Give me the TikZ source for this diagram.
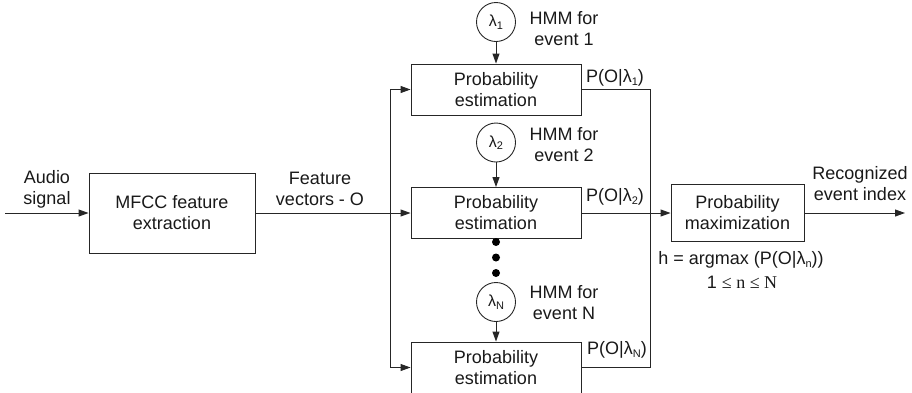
\documentclass[tikz,border=0pt]{standalone}
\usepackage{fontspec}
\setmainfont{Liberation Sans}
\newfontfamily\serifnum{Liberation Serif}
\usetikzlibrary{arrows.meta}
\newcommand\mysub[1]{\raisebox{-0.3ex}{\fontsize{11}{11}\selectfont #1}}
\begin{document}
\begin{tikzpicture}[x=1pt,y=-1pt,
  line width=0.9pt,
  every node/.style={font=\fontsize{18}{21}\selectfont, text=black!90},
  blk/.style={draw=black!85, minimum width=170pt, minimum height=51pt, align=center, inner sep=0pt},
  hmm/.style={draw=black!85, circle, minimum size=39pt, inner sep=0pt, font=\fontsize{16}{16}\selectfont},
  dotn/.style={circle, fill=black, inner sep=0pt, minimum size=8pt},
  txt/.style={align=center},
  ln/.style={draw=black!85},
  arr/.style={ln, -{Triangle[length=10pt,width=7pt]}}
]
\path[use as bounding box] (0,0) rectangle (912,392);
\node[blk, minimum width=166pt, minimum height=80pt] (mfcc) at (172,213) {MFCC feature\\extraction};
\node[blk] (pe1) at (496,89.5) {Probability\\estimation};
\node[blk] (pe2) at (496,213) {Probability\\estimation};
\node[blk] (peN) at (496,367.5) {Probability\\estimation};
\node[blk, minimum width=133pt, minimum height=57pt] (pmax) at (737.5,213) {Probability\\maximization};
\node[hmm] (l1) at (496,22) {λ\mysub{1}};
\node[hmm] (l2) at (496,142.5) {λ\mysub{2}};
\node[hmm] (lN) at (496,302) {λ\mysub{N}};
\node[dotn] (d1) at (496,242) {};
\node[dotn] (d2) at (496,257.5) {};
\node[dotn] (d3) at (496,273) {};
\node[txt] (audio) at (47,189) {Audio\\signal};
\node[txt] (feat) at (320,189) {Feature\\vectors - O};
\node[txt] (h1) at (564,29) {HMM for\\event 1};
\node[txt] (h2) at (564,145) {HMM for\\event 2};
\node[txt] (hN) at (564,303) {HMM for\\event N};
\node (p1) at (615,78) {P(O|λ\mysub{1})};
\node (p2) at (615,197) {P(O|λ\mysub{2})};
\node (pN) at (617,350) {P(O|λ\mysub{N})};
\node[txt] (rec) at (860,184) {Recognized\\event index};
\node (hform) at (741,260) {h = argmax (P(O|λ\mysub{n}))};
\node (range) at (742,282) {1 {\serifnum ≤ n ≤ N}};
\coordinate (ain) at (5,213);
\coordinate (busT) at (390,89.5);
\coordinate (busB) at (390,367.5);
\coordinate (jT) at (650,89.5);
\coordinate (jB) at (650,367.5);
\coordinate (out) at (905,213);
\draw[arr] (ain) -- (mfcc.west);
\draw[arr] (mfcc.east) -- (pe2.west);
\draw[ln] (busT) -- (busB);
\draw[arr] (busT) -- (pe1.west);
\draw[arr] (busB) -- (peN.west);
\draw[ln] (pe1.east) -- (jT) -- (jB) -- (peN.east);
\draw[arr] (pe2.east) -- (pmax.west);
\draw[arr] (pmax.east) -- (out);
\draw[arr] (l1) -- (pe1);
\draw[arr] (l2) -- (pe2);
\draw[arr] (lN) -- (peN);
\end{tikzpicture}
\end{document}
